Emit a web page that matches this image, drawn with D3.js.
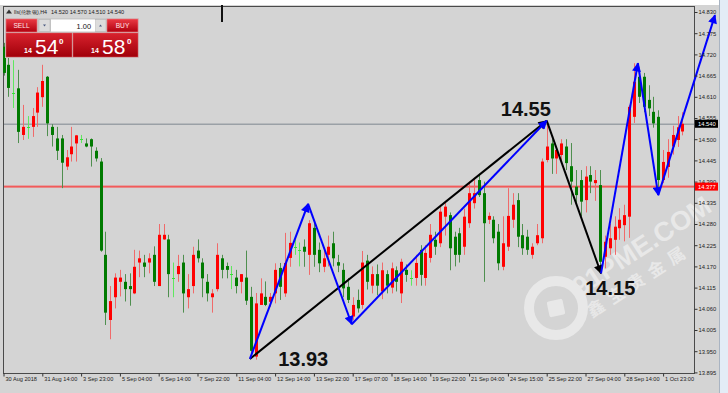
<!DOCTYPE html>
<html><head><meta charset="utf-8">
<script src="https://cdn.jsdelivr.net/npm/d3@7"></script>
<style>
body{margin:0;background:#fff;}
svg{display:block;font-family:"Liberation Sans",Arial,sans-serif;}
</style>
</head><body>
<svg id="c" width="728" height="393"></svg>
<script>
// ---------- data ----------
const opens  = [14.740,14.693,14.621,14.632,14.511,14.532,14.532,14.569,14.609,14.662,
                14.532,14.502,14.502,14.429,14.461,14.489,14.500,14.489,14.500,14.470,
                14.442,14.200,14.031,14.090,14.130,14.130,14.119,14.100,14.180,14.180,
                14.180,14.200,14.119,14.240,14.240,14.141,14.150,14.180,14.090,14.119,
                14.211,14.180,14.130,14.090,14.111,14.191,14.171,14.150,14.141,14.130,
                14.141,14.091,13.936,14.070,14.091,14.078,14.100,14.166,14.100,14.192,
                14.221,14.213,14.221,14.200,14.270,14.213,14.169,14.200,14.230,14.181,
                14.161,14.117,14.040,14.083,14.070,14.185,14.120,14.150,14.105,14.150,
                14.115,14.160,14.100,14.161,14.140,14.140,14.213,14.140,14.192,14.239,
                14.230,14.299,14.303,14.247,14.256,14.221,14.282,14.334,14.394,14.360,
                14.291,14.291,14.260,14.169,14.221,14.291,14.342,14.251,14.247,14.200,
                14.230,14.243,14.446,14.489,14.450,14.459,14.481,14.430,14.377,14.394,
                14.342,14.407,14.386,14.381,14.195,14.217,14.239,14.269,14.277,14.299,
                14.558,14.662,14.662,14.602,14.571,14.558,14.394,14.428,14.481,14.498,
                14.520];
const highs  = [14.750,14.711,14.705,14.680,14.589,14.560,14.581,14.635,14.693,14.664,
                14.539,14.532,14.511,14.472,14.532,14.511,14.511,14.502,14.502,14.479,
                14.451,14.260,14.119,14.152,14.161,14.150,14.152,14.213,14.211,14.200,
                14.204,14.222,14.280,14.280,14.252,14.180,14.200,14.200,14.150,14.221,
                14.240,14.191,14.150,14.111,14.230,14.200,14.180,14.171,14.161,14.150,
                14.211,14.117,14.101,14.139,14.131,14.101,14.178,14.179,14.257,14.260,
                14.240,14.232,14.240,14.290,14.290,14.232,14.220,14.250,14.260,14.200,
                14.178,14.140,14.090,14.110,14.210,14.200,14.170,14.175,14.180,14.160,
                14.180,14.170,14.190,14.175,14.160,14.200,14.225,14.225,14.280,14.260,
                14.330,14.340,14.310,14.260,14.270,14.320,14.390,14.400,14.410,14.390,
                14.310,14.300,14.280,14.300,14.373,14.360,14.360,14.280,14.265,14.230,
                14.280,14.450,14.540,14.500,14.480,14.500,14.500,14.490,14.420,14.420,
                14.430,14.430,14.420,14.420,14.250,14.280,14.300,14.321,14.330,14.589,
                14.697,14.680,14.672,14.640,14.610,14.575,14.472,14.500,14.535,14.560,
                14.570];
const lows   = [14.665,14.610,14.581,14.490,14.498,14.501,14.506,14.532,14.584,14.508,
                14.481,14.446,14.373,14.420,14.442,14.442,14.490,14.479,14.429,14.442,
                14.208,14.018,13.981,14.061,14.092,14.079,14.068,14.098,14.142,14.142,
                14.152,14.119,14.119,14.239,14.090,14.090,14.130,14.050,14.061,14.100,
                14.180,14.090,14.079,14.050,14.105,14.139,14.139,14.111,14.100,14.100,
                14.070,13.945,13.928,14.070,14.067,14.065,14.074,14.083,14.091,14.169,
                14.200,14.170,14.169,14.148,14.169,14.155,14.155,14.170,14.170,14.155,
                14.090,14.075,14.030,14.050,14.060,14.110,14.100,14.095,14.085,14.100,
                14.100,14.105,14.075,14.130,14.120,14.120,14.120,14.120,14.180,14.200,
                14.220,14.250,14.160,14.170,14.180,14.200,14.270,14.320,14.350,14.130,
                14.280,14.230,14.160,14.160,14.210,14.270,14.220,14.200,14.200,14.190,
                14.225,14.230,14.440,14.410,14.410,14.440,14.420,14.330,14.330,14.300,
                14.310,14.360,14.340,14.152,14.165,14.200,14.200,14.239,14.235,14.244,
                14.542,14.594,14.570,14.560,14.530,14.360,14.386,14.400,14.460,14.480,
                14.510];
const closes = [14.672,14.633,14.621,14.519,14.532,14.532,14.560,14.621,14.651,14.541,
                14.511,14.470,14.439,14.453,14.481,14.510,14.500,14.481,14.481,14.450,
                14.211,14.050,14.080,14.141,14.141,14.111,14.111,14.169,14.191,14.169,
                14.191,14.130,14.252,14.252,14.150,14.141,14.171,14.100,14.111,14.200,
                14.191,14.139,14.100,14.100,14.200,14.161,14.161,14.150,14.119,14.150,
                14.081,13.951,14.074,14.100,14.070,14.091,14.161,14.117,14.179,14.231,
                14.221,14.213,14.208,14.282,14.200,14.178,14.191,14.221,14.191,14.172,
                14.113,14.083,14.070,14.061,14.180,14.130,14.150,14.120,14.160,14.120,
                14.165,14.130,14.182,14.148,14.140,14.179,14.148,14.205,14.252,14.221,
                14.312,14.325,14.217,14.200,14.200,14.299,14.360,14.360,14.355,14.282,
                14.301,14.243,14.178,14.230,14.301,14.330,14.247,14.217,14.213,14.221,
                14.251,14.442,14.481,14.450,14.472,14.489,14.438,14.390,14.355,14.338,
                14.403,14.390,14.394,14.182,14.234,14.243,14.273,14.291,14.303,14.584,
                14.649,14.610,14.584,14.580,14.541,14.394,14.441,14.467,14.511,14.531,
                14.540];

const xTickBars   = [0,8,16,24,32,40,48,56,64,72,80,88,96,104,112,120,128,136];
const xTickLabels = ["30 Aug 2018","31 Aug 14:00","3 Sep 23:00","5 Sep 04:00","6 Sep 14:00",
                     "7 Sep 22:00","11 Sep 04:00","12 Sep 14:00","13 Sep 22:00","17 Sep 07:00",
                     "18 Sep 14:00","19 Sep 22:00","21 Sep 04:00","24 Sep 15:00","25 Sep 22:00",
                     "27 Sep 04:00","28 Sep 14:00","1 Oct 23:00"];
const yTickLabels = ["14.830","14.775","14.720","14.665","14.610","14.555","14.500","14.445",
                     "14.390","14.335","14.280","14.225","14.170","14.115","14.060","14.005",
                     "13.950","13.895"];
const bidPrice = 14.540, alertPrice = 14.377;
const headerTitle = "lls(伦敦银),H4";
const headerOHLC  = "14.520 14.570 14.510 14.540";
const sellBig = "54", buyBig = "58", bigPrefix = "14", lotText = "1.00";

// wave points: [bar index, price]
const blackWave = [[50.8,13.930],[112.0,14.548],[123.2,14.152]];
const blueWave1 = [[50.8,13.930],[62.8,14.332],[71.8,14.020],[112.0,14.548]];
const blueWave2 = [[123.2,14.152],[130.8,14.697],[135.0,14.355],[146.7,14.822]];
const waveLabelText = ["13.93","14.55","14.15"];
const waveLabelPos  = [[61.8,13.912],[107.7,14.560],[125.1,14.096]];

// ---------- drawing ----------
const svg = d3.select("#c");
const L=3, R=694, T=6, B=373;
const x = d3.scaleLinear().domain([0,136]).range([3.5,663.1]);
const y = d3.scaleLinear().domain([13.895,14.830]).range([372.4,12]);

// backgrounds
svg.append("rect").attr("x",0).attr("y",0).attr("width",728).attr("height",393).attr("fill","#ffffff");
svg.append("rect").attr("x",0).attr("y",5).attr("width",719).attr("height",388).attr("fill","#d4d4d4");
svg.append("rect").attr("x",720).attr("y",0).attr("width",8).attr("height",393).attr("fill","#e3ecf6");
svg.append("line").attr("x1",719.5).attr("x2",719.5).attr("y1",0).attr("y2",393).attr("stroke","#a9b4c2");

const defs = svg.append("defs");
function marker(id,color){
  defs.append("marker").attr("id",id).attr("viewBox","0 0 10 10").attr("refX",9).attr("refY",5)
    .attr("markerUnits","userSpaceOnUse").attr("markerWidth",10).attr("markerHeight",9)
    .attr("orient","auto")
    .append("path").attr("d","M0,0 L10,5 L0,10 Z").attr("fill",color);
}
marker("ab","#000000"); marker("au","#0000ff");

// watermark
const wm = svg.append("g").attr("opacity",0.6);
wm.append("circle").attr("cx",556).attr("cy",308).attr("r",27).attr("fill","none")
  .attr("stroke","#f6f6f6").attr("stroke-width",10);
wm.append("rect").attr("x",548).attr("y",300).attr("width",16).attr("height",16).attr("rx",2)
  .attr("fill","#f6f6f6").attr("transform","rotate(-12,556,308)");
wm.append("text").attr("transform","translate(580,297) rotate(-33)")
  .attr("font-size",27).attr("font-weight","bold").attr("fill","#f6f6f6").text("91PME.COM");
wm.append("text").attr("transform","translate(592,318) rotate(-33)")
  .attr("font-size",17).attr("font-weight","bold").attr("letter-spacing",7).attr("fill","#f6f6f6")
  .attr("font-family","Noto Sans CJK SC").text("鑫宝贵金属");

// plot border
svg.append("rect").attr("x",L+0.5).attr("y",T+0.5).attr("width",R-L).attr("height",B-T)
  .attr("fill","none").attr("stroke","#4a4a4a");

// horizontal price lines
svg.append("rect").attr("x",L+1).attr("width",R-L-1).attr("y",Math.round(y(bidPrice))-0.5).attr("height",1.5)
  .attr("fill","#9aa0a6");
svg.append("rect").attr("x",L+1).attr("width",R-L-1).attr("y",y(alertPrice)-1).attr("height",2)
  .attr("fill","#f25a5a");

// candles
const bars = d3.range(opens.length).map(i=>({i,o:opens[i],h:highs[i],l:lows[i],c:closes[i]}));
const cg = svg.append("g");
bars.forEach(d=>{
  const cx = Math.round(x(d.i));
  const up = d.c>d.o, doji = d.c===d.o;
  const col = doji ? "#36e036" : (up ? "#ff0000" : "#007a00");
  const wcol = doji ? "#5ee85e" : (up ? "#f06a6a" : "#4f8f4f");
  cg.append("line").attr("x1",cx+0.5).attr("x2",cx+0.5).attr("y1",y(d.h)).attr("y2",y(d.l))
    .attr("stroke",wcol).attr("stroke-width",1);
  if(doji){
    cg.append("line").attr("x1",cx-1).attr("x2",cx+2).attr("y1",Math.round(y(d.o))+0.5).attr("y2",Math.round(y(d.o))+0.5)
      .attr("stroke",col);
  } else {
    const y1 = y(Math.max(d.o,d.c)), y2 = y(Math.min(d.o,d.c));
    cg.append("rect").attr("x",cx-1).attr("y",y1).attr("width",3).attr("height",Math.max(1,y2-y1)).attr("fill",col);
  }
});

// wave arrows
function segs(pts,mk,color,w){
  for(let k=0;k<pts.length-1;k++){
    svg.append("line").attr("x1",x(pts[k][0])).attr("y1",y(pts[k][1]))
      .attr("x2",x(pts[k+1][0])).attr("y2",y(pts[k+1][1]))
      .attr("stroke",color).attr("stroke-width",w).attr("marker-end",`url(#${mk})`);
  }
}
segs(blackWave,"ab","#000000",2);
segs(blueWave1,"au","#0000ff",2);
segs(blueWave2,"au","#0000ff",2);

// wave labels
waveLabelText.forEach((t,k)=>{
  svg.append("text").attr("x",x(waveLabelPos[k][0])).attr("y",y(waveLabelPos[k][1]))
    .attr("text-anchor","middle").attr("font-size",20).attr("font-weight","bold").attr("fill","#111").text(t);
});

// right axis
const ya = svg.append("g").attr("transform",`translate(${R+0.5},0)`)
  .call(d3.axisRight(y).tickValues(yTickLabels.map(Number)).tickFormat((d,k)=>yTickLabels[k]).tickSize(3).tickSizeOuter(0));
ya.select(".domain").remove();
ya.selectAll("line").attr("stroke","#333");
ya.selectAll("text").attr("font-size",5.8).attr("fill","#222").attr("x",4).attr("font-family","Liberation Sans, Arial");

// price tags
function tag(p,bg){
  const yy = y(p);
  svg.append("rect").attr("x",695).attr("y",yy-4).attr("width",23).attr("height",8).attr("fill",bg);
  svg.append("text").attr("x",698).attr("y",yy+2).attr("font-size",5.8).attr("fill","#fff").text(p.toFixed(3));
}
tag(bidPrice,"#000000");
tag(alertPrice,"#ff0000");

// bottom axis
const xa = svg.append("g").attr("transform",`translate(0,${B+0.5})`)
  .call(d3.axisBottom(x).tickValues(xTickBars).tickFormat((d,k)=>xTickLabels[k]).tickSize(3).tickSizeOuter(0));
xa.select(".domain").remove();
xa.selectAll("line").attr("stroke","#333");
xa.selectAll("text").attr("font-size",5.6).attr("fill","#222").attr("text-anchor","start")
  .attr("dx",1.5).attr("dy",1.5).attr("font-family","Liberation Sans, Arial");

// header
svg.append("path").attr("d","M6,13.5 L9,9.5 L12,13.5 Z").attr("fill","#333");
svg.append("text").attr("x",14).attr("y",14).attr("font-size",5).attr("fill","#222")
  .attr("textLength",33).attr("lengthAdjust","spacingAndGlyphs").text(headerTitle);
svg.append("text").attr("x",51).attr("y",14).attr("font-size",5.6).attr("fill","#222").text(headerOHLC);
svg.append("rect").attr("x",221).attr("y",5).attr("width",2).attr("height",17).attr("fill","#111");

// trade panel
const gr = defs.append("linearGradient").attr("id","rg").attr("x1",0).attr("x2",0).attr("y1",0).attr("y2",1);
gr.append("stop").attr("offset","0%").attr("stop-color","#ea3a44");
gr.append("stop").attr("offset","100%").attr("stop-color","#b0000e");
const gr2 = defs.append("linearGradient").attr("id","rg2").attr("x1",0).attr("x2",0).attr("y1",0).attr("y2",1);
gr2.append("stop").attr("offset","0%").attr("stop-color","#d8222e");
gr2.append("stop").attr("offset","100%").attr("stop-color","#a0000a");
const pn = svg.append("g");
pn.append("rect").attr("x",5).attr("y",18).attr("width",134).attr("height",40).attr("fill","#c8c8c8");
pn.append("rect").attr("x",6).attr("y",19).attr("width",31).attr("height",13).attr("fill","url(#rg)").attr("stroke","#f07a80").attr("stroke-width",0.6);
pn.append("rect").attr("x",107).attr("y",19).attr("width",31).attr("height",13).attr("fill","url(#rg)").attr("stroke","#f07a80").attr("stroke-width",0.6);
pn.append("text").attr("x",21.5).attr("y",28).attr("text-anchor","middle").attr("font-size",6.6).attr("fill","#ffe8e8").text("SELL");
pn.append("text").attr("x",122.5).attr("y",28).attr("text-anchor","middle").attr("font-size",6.6).attr("fill","#ffe8e8").text("BUY");
pn.append("rect").attr("x",39).attr("y",19.5).attr("width",11).attr("height",12).attr("fill","#dcdcdc").attr("stroke","#b0b0b0").attr("stroke-width",0.5);
pn.append("rect").attr("x",95).attr("y",19.5).attr("width",11).attr("height",12).attr("fill","#dcdcdc").attr("stroke","#b0b0b0").attr("stroke-width",0.5);
pn.append("path").attr("d","M43,24.5 L46,24.5 L44.5,26.5 Z").attr("fill","#4a5a80");
pn.append("path").attr("d","M99,26.5 L102,26.5 L100.5,24.5 Z").attr("fill","#4a5a80");
pn.append("rect").attr("x",51).attr("y",19.5).attr("width",44).attr("height",12).attr("fill","#ffffff");
pn.append("text").attr("x",91).attr("y",28.5).attr("text-anchor","end").attr("font-size",7.4).attr("fill","#111").text(lotText);
pn.append("rect").attr("x",6).attr("y",33).attr("width",66).attr("height",24).attr("fill","url(#rg2)").attr("stroke","#e05a60").attr("stroke-width",0.5);
pn.append("rect").attr("x",73).attr("y",33).attr("width",65).attr("height",24).attr("fill","url(#rg2)").attr("stroke","#e05a60").attr("stroke-width",0.5);
[[24,35,59,sellBig],[91,102,127,buyBig]].forEach(([sx,bx,dx,big])=>{
  pn.append("text").attr("x",sx).attr("y",53).attr("font-size",7).attr("font-weight","bold").attr("fill","#fff").text(bigPrefix);
  pn.append("text").attr("x",bx).attr("y",53.5).attr("font-size",21).attr("fill","#fff").text(big);
  pn.append("text").attr("x",dx).attr("y",44).attr("font-size",8).attr("font-weight","bold").attr("fill","#fff").text("0");
});
</script>
</body></html>
